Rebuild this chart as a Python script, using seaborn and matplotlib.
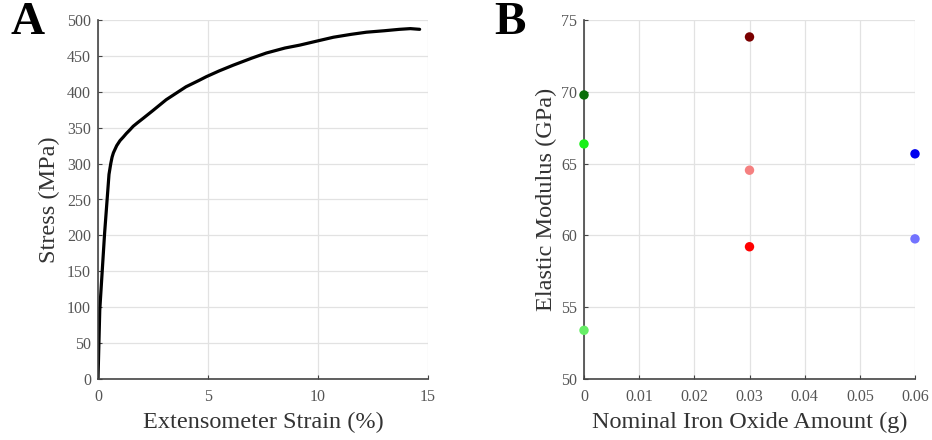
import numpy as np
import pandas as pd
import matplotlib
matplotlib.use("Agg")
import matplotlib.pyplot as plt
import seaborn as sns

# Panel A: stress-strain curve
strain = [0.0, 0.08, 0.30, 0.50, 0.58, 0.64, 0.70, 0.76, 0.85, 1.0, 1.15, 1.29, 1.45, 1.6, 1.8, 2.05,
          2.5, 3.1, 3.5, 4.0, 4.6, 4.92, 5.5, 6.14, 7.0, 7.65, 8.5, 9.17, 10.0, 10.7, 11.5, 12.2,
          13.0, 13.7, 14.2, 14.62]
stress = [0, 96, 203, 285, 300, 309, 315, 319, 325, 332, 337, 342, 347, 352, 357, 363,
          374, 389, 397, 407, 416, 421, 429, 437, 447, 454, 461, 465, 471, 476, 480, 483,
          485, 487, 488, 487]

# Panel B: elastic modulus vs iron oxide amount
amount = [0.0, 0.0, 0.0, 0.03, 0.03, 0.03, 0.06, 0.06]
modulus = [69.78, 66.37, 53.39, 73.82, 64.54, 59.21, 65.68, 59.76]
colors = ["#0b6e0b", "#18f018", "#66ee66", "#7a0000", "#f58080", "#ff0000", "#0000f0", "#7373ff"]
sample = ["g1", "g2", "g3", "r1", "r2", "r3", "b1", "b2"]

sns.set_theme(style="whitegrid")
plt.rcParams['font.family'] = ['Liberation Serif', 'DejaVu Serif']

fig = plt.figure(figsize=(9.32, 4.4), dpi=100)
axA = fig.add_axes([98/932, 1-379/440, 330/932, 359/440])
axB = fig.add_axes([584/932, 1-379/440, 331/932, 359/440])

dfA = pd.DataFrame({"strain": strain, "stress": stress})
sns.lineplot(data=dfA, x="strain", y="stress", ax=axA, color="black", linewidth=2.3, sort=False)

dfB = pd.DataFrame({"amount": amount, "modulus": modulus, "sample": sample})
sns.scatterplot(data=dfB, x="amount", y="modulus", hue="sample", palette=dict(zip(sample, colors)),
                ax=axB, s=46, linewidth=0, legend=False, clip_on=False, zorder=5)

tick_color = "#555555"
label_color = "#333333"
for ax in (axA, axB):
    ax.set_facecolor("white")
    ax.grid(True, color="#e2e2e2", linewidth=0.9)
    for s in ("top", "right"):
        ax.spines[s].set_visible(False)
    for s in ("left", "bottom"):
        ax.spines[s].set_visible(True)
        ax.spines[s].set_color("#444444")
        ax.spines[s].set_linewidth(1.2)
    ax.tick_params(axis="both", direction="in", length=3, width=0.8, color="#444444",
                   labelcolor=tick_color, labelsize=11.5, left=True, bottom=True)
    ax.tick_params(axis="x", pad=7)
    ax.tick_params(axis="y", pad=5)

axA.set_xlim(0, 15)
axA.set_ylim(0, 500)
axA.set_xticks([0, 5, 10, 15])
axA.set_yticks(np.arange(0, 501, 50))
axA.set_xlabel("Extensometer Strain (%)", fontsize=17.5, color=label_color, labelpad=5)
axA.set_ylabel("Stress (MPa)", fontsize=17.5, color=label_color, labelpad=5)

axB.set_xlim(0, 0.06)
axB.set_ylim(50, 75)
axB.set_xticks([0, 0.01, 0.02, 0.03, 0.04, 0.05, 0.06])
axB.set_xticklabels(["0", "0.01", "0.02", "0.03", "0.04", "0.05", "0.06"])
axB.set_yticks([50, 55, 60, 65, 70, 75])
axB.set_xlabel("Nominal Iron Oxide Amount (g)", fontsize=17.5, color=label_color, labelpad=5)
axB.set_ylabel("Elastic Modulus (GPa)", fontsize=17.5, color=label_color, labelpad=3)

fig.text(28/932, 1-23/440, "A", fontsize=34, fontweight="bold", color="black", ha="center", va="center")
fig.text(510/932, 1-23/440, "B", fontsize=34, fontweight="bold", color="black", ha="center", va="center")

fig.savefig("out.png", dpi=100, facecolor="white")
